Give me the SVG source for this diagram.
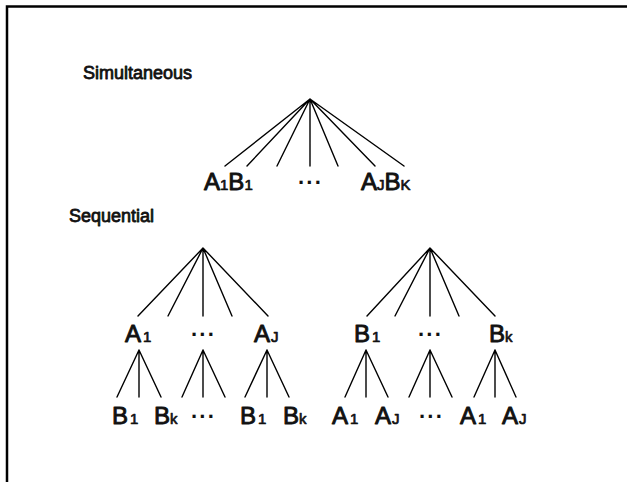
<svg xmlns="http://www.w3.org/2000/svg" width="627" height="482" viewBox="0 0 627 482">
<style>
  .bg { fill: #ffffff; }
  .frame { stroke: #000; stroke-width: 2.5; fill: none; }
  .edge { stroke: #000; stroke-width: 1.4; fill: none; stroke-linecap: round; }
  .head { font-family: "Liberation Sans", Arial, sans-serif; font-size: 18px; fill: #111; stroke: #111; stroke-width: 0.8; stroke-linejoin: round; }
  .lbl { font-family: "Liberation Sans", Arial, sans-serif; font-size: 24px; fill: #111; stroke: #111; stroke-width: 0.9; stroke-linejoin: round; }
  .sub { font-size: 15px; stroke-width: 0.7; }
  .dots { font-family: "Liberation Sans", Arial, sans-serif; font-size: 22px; font-weight: bold; fill: #111; letter-spacing: 1px; }
</style>
<rect class="bg" x="0" y="0" width="627" height="482"/>
<path class="frame" d="M7,482 V6.5 H627"/>

<g id="title-simultaneous"><text class="head" x="83" y="79">Simultaneous</text></g>
<g id="title-sequential"><text class="head" x="69" y="222">Sequential</text></g>

<g id="connectors">
  <!-- simultaneous tree -->
  <path class="edge" d="M310,99 L225,166 M310,99 L247,166 M310,99 L277,166 M310,99 L310,166 M310,99 L338,166 M310,99 L375,166 M310,99 L404,166"/>
  <!-- sequential A-first tree -->
  <path class="edge" d="M203,248 L138,316 M203,248 L168,316 M203,248 L203,316 M203,248 L232,316 M203,248 L268,316"/>
  <path class="edge" d="M139,350 L117,397 M139,350 L139,397 M139,350 L161,397"/>
  <path class="edge" d="M203,350 L182,397 M203,350 L203,397 M203,350 L225,397"/>
  <path class="edge" d="M267,350 L245,397 M267,350 L267,397 M267,350 L289,397"/>
  <!-- sequential B-first tree -->
  <path class="edge" d="M430,248 L367,316 M430,248 L395,316 M430,248 L430,316 M430,248 L459,316 M430,248 L495,316"/>
  <path class="edge" d="M366,350 L345,397 M366,350 L366,397 M366,350 L388,397"/>
  <path class="edge" d="M430,350 L409,397 M430,350 L430,397 M430,350 L452,397"/>
  <path class="edge" d="M495,350 L474,397 M495,350 L495,397 M495,350 L516,397"/>
</g>

<!-- simultaneous leaves -->
<g id="sim-root"><circle cx="310" cy="99" r="0.1" fill="none"/></g>
<g id="sim-a1b1"><text class="lbl" x="204" y="190">A<tspan class="sub">1</tspan>B<tspan class="sub">1</tspan></text></g>
<g id="sim-dots"><text class="dots" x="298" y="190">···</text></g>
<g id="sim-ajbk"><text class="lbl" x="361" y="190">A<tspan class="sub">J</tspan>B<tspan class="sub">K</tspan></text></g>

<!-- sequential A-first -->
<g id="seqA-root"><circle cx="203" cy="248" r="0.1" fill="none"/></g>
<g id="seqA-a1"><text class="lbl" x="125" y="342">A<tspan class="sub" dx="2">1</tspan></text></g>
<g id="seqA-dots"><text class="dots" x="191" y="342">···</text></g>
<g id="seqA-aj"><text class="lbl" x="254" y="342">A<tspan class="sub" dx="1">J</tspan></text></g>
<g id="seqA-a1-b1"><text class="lbl" x="112" y="424">B<tspan class="sub" dx="2">1</tspan></text></g>
<g id="seqA-a1-bk"><text class="lbl" x="154" y="424">B<tspan class="sub">k</tspan></text></g>
<g id="seqA-dots2"><text class="dots" x="191" y="424">···</text></g>
<g id="seqA-aj-b1"><text class="lbl" x="240" y="424">B<tspan class="sub" dx="2">1</tspan></text></g>
<g id="seqA-aj-bk"><text class="lbl" x="283" y="424">B<tspan class="sub">k</tspan></text></g>

<!-- sequential B-first -->
<g id="seqB-root"><circle cx="430" cy="248" r="0.1" fill="none"/></g>
<g id="seqB-b1"><text class="lbl" x="354" y="342">B<tspan class="sub" dx="2">1</tspan></text></g>
<g id="seqB-dots"><text class="dots" x="418" y="342">···</text></g>
<g id="seqB-bk"><text class="lbl" x="489" y="342">B<tspan class="sub">k</tspan></text></g>
<g id="seqB-b1-a1"><text class="lbl" x="332" y="424">A<tspan class="sub" dx="2">1</tspan></text></g>
<g id="seqB-b1-aj"><text class="lbl" x="375" y="424">A<tspan class="sub" dx="1">J</tspan></text></g>
<g id="seqB-dots2"><text class="dots" x="419" y="424">···</text></g>
<g id="seqB-bk-a1"><text class="lbl" x="460" y="424">A<tspan class="sub" dx="2">1</tspan></text></g>
<g id="seqB-bk-aj"><text class="lbl" x="502" y="424">A<tspan class="sub" dx="1">J</tspan></text></g>
</svg>
